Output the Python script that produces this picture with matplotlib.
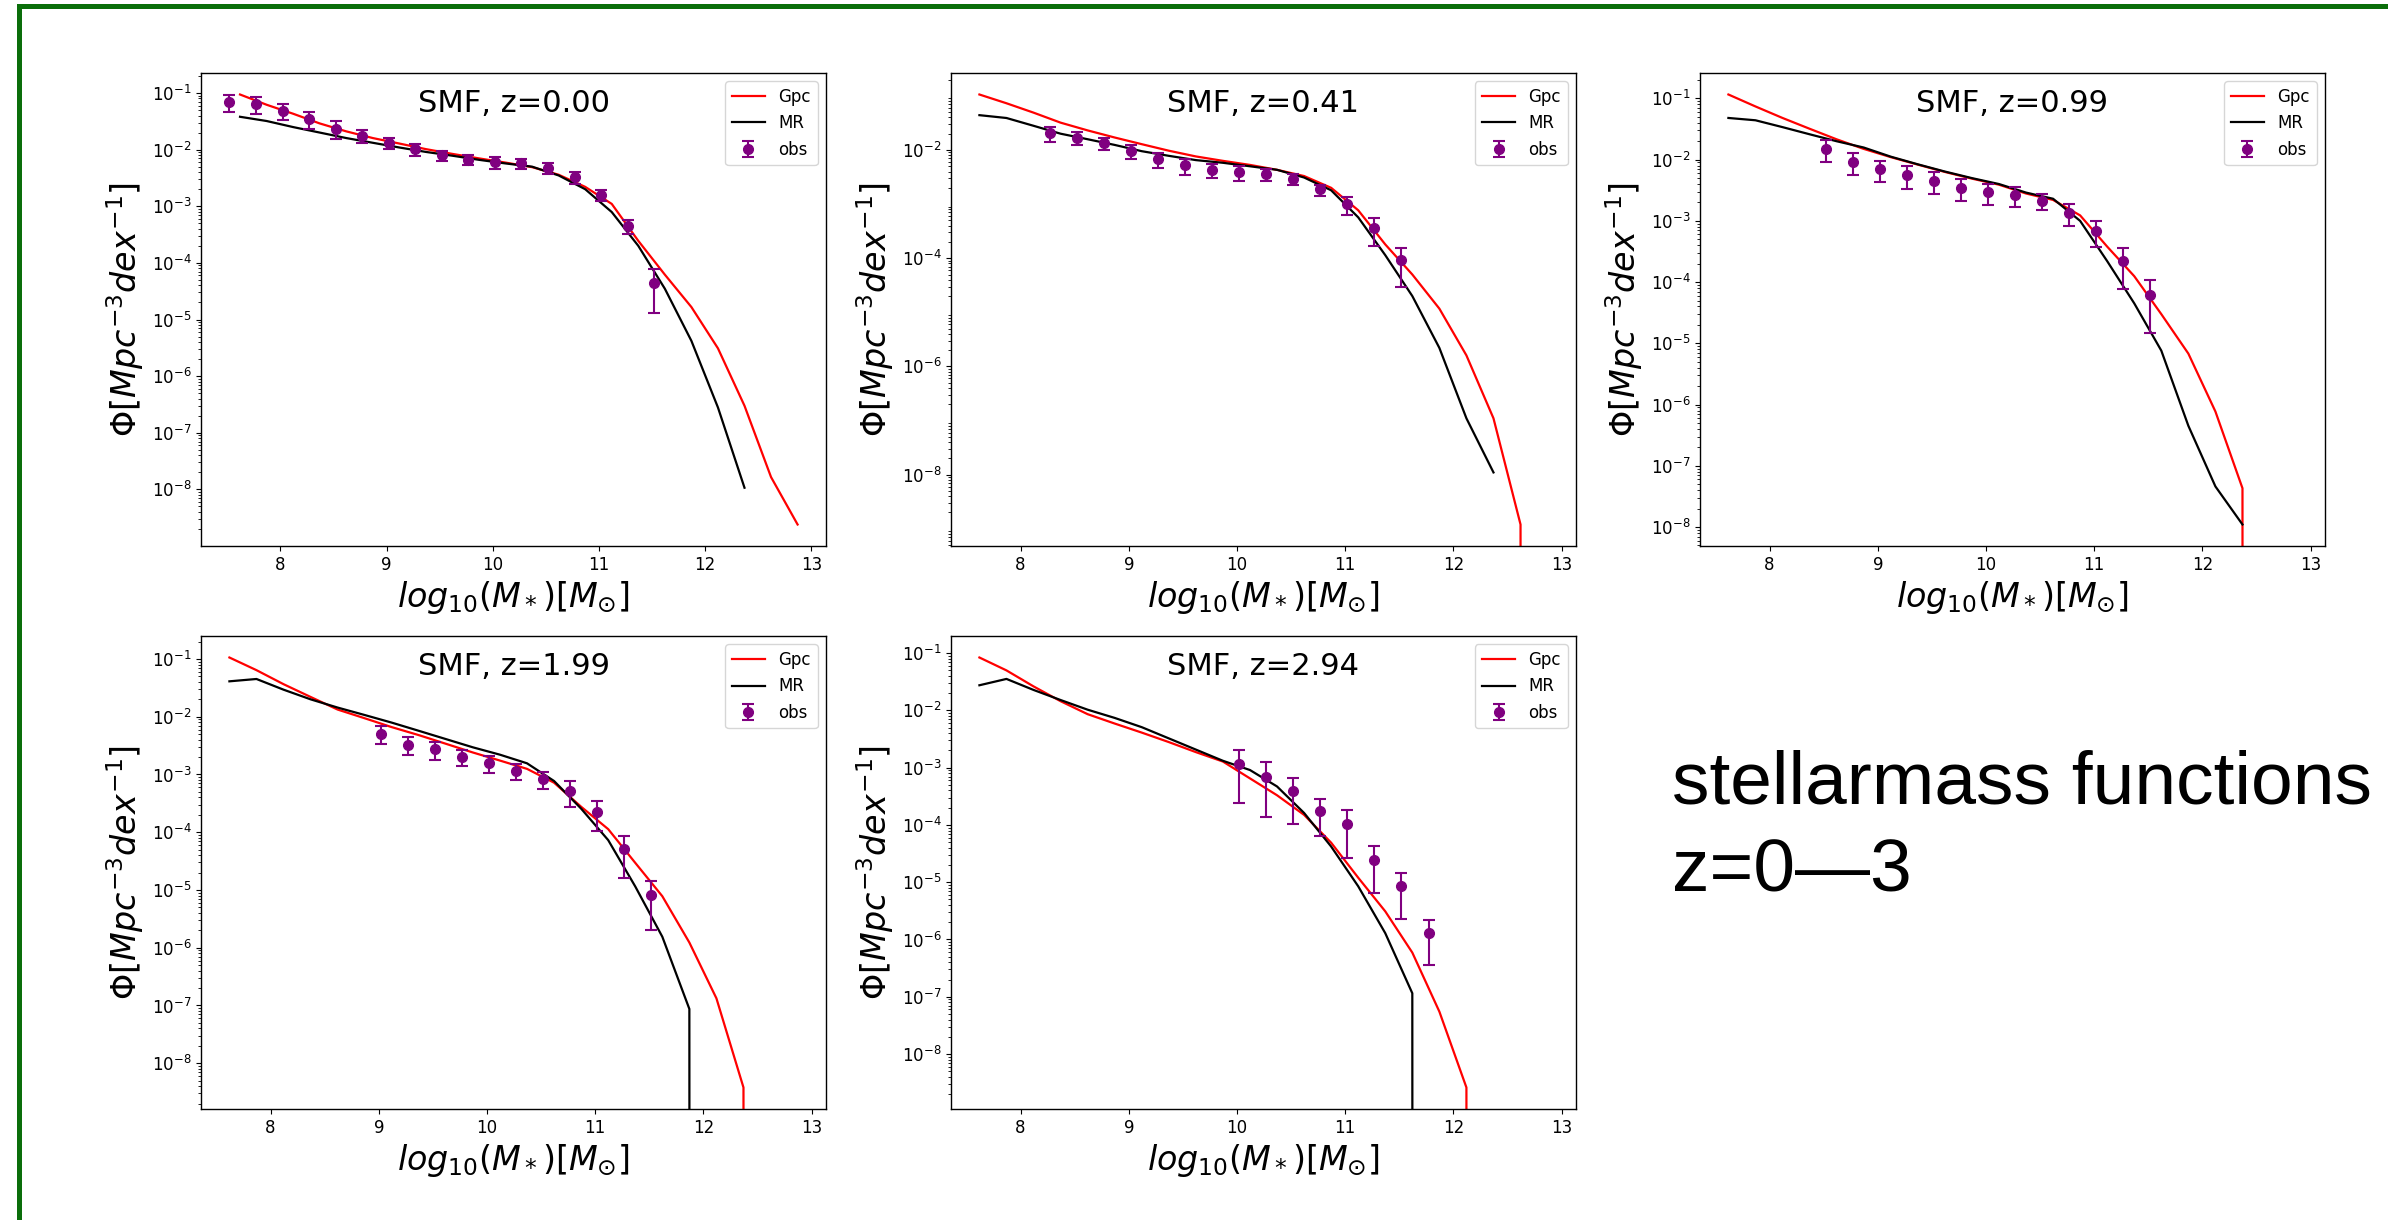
import numpy as np
import matplotlib
matplotlib.use("Agg")
import matplotlib.pyplot as plt
from matplotlib.patches import Rectangle
from matplotlib.ticker import LogLocator

nan = np.nan

# Stellar mass bins of the model curves, log10(M*/Msun)
mass_model = [7.62, 7.87, 8.12, 8.37, 8.62, 8.87, 9.12, 9.37, 9.62, 9.87, 10.12,
              10.37, 10.62, 10.87, 11.12, 11.37, 11.62, 11.87, 12.12, 12.37, 12.62, 12.87]

redshifts = ["0.00", "0.41", "0.99", "1.99", "2.94"]

# Gpc run
gpc_z000 = [9.4e-2, 6.2e-2, 4.3e-2, 2.9e-2, 2.1e-2, 1.6e-2, 1.28e-2, 1.02e-2, 8.4e-3, 7.0e-3, 5.9e-3,
            4.9e-3, 3.6e-3, 2.2e-3, 1.1e-3, 2.45e-4, 6.2e-5, 1.66e-5, 3.1e-6, 3.0e-7, 1.65e-8, 2.4e-9]
gpc_z041 = [1.06e-1, 7.3e-2, 4.9e-2, 3.2e-2, 2.3e-2, 1.7e-2, 1.28e-2, 9.7e-3, 7.6e-3, 6.3e-3, 5.3e-3,
            4.3e-3, 3.3e-3, 2.0e-3, 7.7e-4, 1.8e-4, 5.0e-5, 1.17e-5, 1.6e-6, 1.1e-7, 1.2e-9, 0.0]
gpc_z099 = [1.16e-1, 7.4e-2, 4.8e-2, 3.2e-2, 2.15e-2, 1.5e-2, 1.1e-2, 8.3e-3, 6.3e-3, 4.9e-3, 3.9e-3,
            2.8e-3, 2.2e-3, 1.23e-3, 3.8e-4, 1.25e-4, 3.0e-5, 6.8e-6, 7.7e-7, 4.3e-8, 0.0, 0.0]
gpc_z199 = [1.06e-1, 6.4e-2, 3.66e-2, 2.2e-2, 1.33e-2, 9.4e-3, 6.6e-3, 4.8e-3, 3.4e-3, 2.4e-3, 1.74e-3,
            1.25e-3, 7.2e-4, 2.76e-4, 1.13e-4, 2.95e-5, 7.8e-6, 1.23e-6, 1.33e-7, 3.8e-9, 0.0, 0.0]
gpc_z294 = [8.4e-2, 5.0e-2, 2.63e-2, 1.45e-2, 8.6e-3, 5.9e-3, 4.1e-3, 2.8e-3, 1.87e-3, 1.28e-3, 6.5e-4,
            3.3e-4, 1.5e-4, 4.9e-5, 1.2e-5, 3.1e-6, 5.9e-7, 5.5e-8, 2.6e-9, 0.0, 0.0, 0.0]

# Millennium run (MR)
mr_z000 = [3.8e-2, 3.2e-2, 2.5e-2, 2.0e-2, 1.6e-2, 1.32e-2, 1.09e-2, 9.1e-3, 7.8e-3, 6.6e-3, 5.7e-3,
           5.0e-3, 3.5e-3, 2.0e-3, 7.9e-4, 2.0e-4, 3.5e-5, 4.2e-6, 2.8e-7, 1.07e-8, nan, nan]
mr_z041 = [4.4e-2, 3.9e-2, 2.8e-2, 2.0e-2, 1.58e-2, 1.24e-2, 9.5e-3, 7.8e-3, 6.5e-3, 5.8e-3, 5.0e-3,
           4.3e-3, 3.1e-3, 1.8e-3, 5.7e-4, 1.14e-4, 2.0e-5, 2.2e-6, 1.1e-7, 1.1e-8, nan, nan]
mr_z099 = [4.8e-2, 4.4e-2, 3.4e-2, 2.6e-2, 2.0e-2, 1.58e-2, 1.12e-2, 8.4e-3, 6.4e-3, 5.0e-3, 4.0e-3,
           2.9e-3, 2.3e-3, 1.0e-3, 2.2e-4, 4.5e-5, 7.6e-6, 4.5e-7, 4.6e-8, 1.1e-8, nan, nan]
mr_z199 = [4.1e-2, 4.5e-2, 2.94e-2, 2.0e-2, 1.44e-2, 1.07e-2, 7.9e-3, 5.7e-3, 4.1e-3, 2.95e-3, 2.2e-3,
           1.56e-3, 7.7e-4, 2.56e-4, 7.3e-5, 1.15e-5, 1.55e-6, 8.7e-8, 0.0, nan, nan, nan]
mr_z294 = [2.75e-2, 3.55e-2, 2.28e-2, 1.52e-2, 1.03e-2, 7.4e-3, 5.1e-3, 3.25e-3, 2.07e-3, 1.32e-3, 9.1e-4,
           4.7e-4, 1.62e-4, 4.2e-5, 8.5e-6, 1.29e-6, 1.15e-7, 0.0, nan, nan, nan, nan]

# Observed stellar mass functions with 1-sigma errors
obs_mass_z000 = [7.52, 7.77, 8.02, 8.27, 8.52, 8.77, 9.02, 9.27, 9.52, 9.77, 10.02, 10.27, 10.52,
                 10.77, 11.02, 11.27, 11.52]
obs_phi_z000 = [6.9e-2, 6.4e-2, 4.8e-2, 3.5e-2, 2.35e-2, 1.77e-2, 1.32e-2, 1.03e-2, 7.9e-3, 6.6e-3,
                6.0e-3, 5.7e-3, 4.7e-3, 3.3e-3, 1.6e-3, 4.5e-4, 4.5e-5]
obs_err_z000 = [2.2e-2, 2.2e-2, 1.5e-2, 1.2e-2, 8.0e-3, 4.5e-3, 3.1e-3, 2.5e-3, 1.5e-3, 1.3e-3,
                1.4e-3, 1.2e-3, 1.0e-3, 8.0e-4, 3.6e-4, 1.3e-4, 3.2e-5]

obs_mass_z041 = [8.27, 8.52, 8.77, 9.02, 9.27, 9.52, 9.77, 10.02, 10.27, 10.52, 10.77, 11.02, 11.27, 11.52]
obs_phi_z041 = [2.04e-2, 1.68e-2, 1.34e-2, 9.7e-3, 6.7e-3, 5.2e-3, 4.3e-3, 3.9e-3, 3.55e-3, 2.9e-3,
                1.87e-3, 1.0e-3, 3.6e-4, 9.3e-5]
obs_err_z041 = [6.5e-3, 4.4e-3, 3.6e-3, 2.9e-3, 2.0e-3, 1.7e-3, 1.3e-3, 1.2e-3, 9.0e-4, 6.5e-4,
                4.3e-4, 3.7e-4, 1.9e-4, 6.4e-5]

obs_mass_z099 = [8.52, 8.77, 9.02, 9.27, 9.52, 9.77, 10.02, 10.27, 10.52, 10.77, 11.02, 11.27, 11.52]
obs_phi_z099 = [1.48e-2, 9.2e-3, 6.97e-3, 5.55e-3, 4.48e-3, 3.48e-3, 2.96e-3, 2.64e-3, 2.11e-3,
                1.36e-3, 6.8e-4, 2.19e-4, 6.07e-5]
obs_err_z099 = [5.8e-3, 3.6e-3, 2.7e-3, 2.2e-3, 1.7e-3, 1.36e-3, 1.12e-3, 9.3e-4, 6.0e-4,
                5.3e-4, 3.0e-4, 1.42e-4, 4.6e-5]

obs_mass_z199 = [9.02, 9.27, 9.52, 9.77, 10.02, 10.27, 10.52, 10.77, 11.02, 11.27, 11.52]
obs_phi_z199 = [5.1e-3, 3.3e-3, 2.74e-3, 2.04e-3, 1.55e-3, 1.16e-3, 8.3e-4, 5.25e-4, 2.26e-4, 5.1e-5, 8.1e-6]
obs_err_z199 = [1.75e-3, 1.1e-3, 9.5e-4, 6.5e-4, 5.0e-4, 3.7e-4, 2.8e-4, 2.5e-4, 1.2e-4, 3.5e-5, 6.1e-6]

obs_mass_z294 = [10.02, 10.27, 10.52, 10.77, 11.02, 11.27, 11.52, 11.77]
obs_phi_z294 = [1.14e-3, 7.0e-4, 3.85e-4, 1.73e-4, 1.03e-4, 2.45e-5, 8.5e-6, 1.29e-6]
obs_err_z294 = [9.0e-4, 5.6e-4, 2.8e-4, 1.1e-4, 7.6e-5, 1.8e-5, 6.2e-6, 9.3e-7]

gpc_all = [gpc_z000, gpc_z041, gpc_z099, gpc_z199, gpc_z294]
mr_all = [mr_z000, mr_z041, mr_z099, mr_z199, mr_z294]
obs_mass_all = [obs_mass_z000, obs_mass_z041, obs_mass_z099, obs_mass_z199, obs_mass_z294]
obs_phi_all = [obs_phi_z000, obs_phi_z041, obs_phi_z099, obs_phi_z199, obs_phi_z294]
obs_err_all = [obs_err_z000, obs_err_z041, obs_err_z099, obs_err_z199, obs_err_z294]

plt.rcParams["font.family"] = ["DejaVu Sans"]
plt.rcParams["font.size"] = 12

W, H = 2388, 1220
fig = plt.figure(figsize=(W / 100, H / 100), dpi=100)

# panel boxes in pixels: (left, top)
panel_w, panel_h = 625, 473
corners = [(201, 73), (951, 73), (1700, 73), (201, 636), (951, 636)]

for i, (x0, y0) in enumerate(corners):
    ax = fig.add_axes([x0 / W, 1 - (y0 + panel_h) / H, panel_w / W, panel_h / H])
    ax.plot(mass_model, gpc_all[i], color="red", lw=1.6, label="Gpc")
    ax.plot(mass_model, mr_all[i], color="black", lw=1.6, label="MR")
    ax.errorbar(obs_mass_all[i], obs_phi_all[i], yerr=obs_err_all[i], fmt="o",
                color="purple", markersize=7, capsize=4, capthick=1.5, elinewidth=1.5,
                label="obs")
    ax.set_yscale("log")
    ax.yaxis.set_major_locator(LogLocator(base=10, numticks=8))
    ax.legend(loc="upper right", fontsize=12)
    ax.text(0.5, 0.918, "SMF, z=" + redshifts[i], transform=ax.transAxes,
            ha="center", va="baseline", fontsize=22)
    ax.set_xlabel(r"$log_{10}(M_*)[M_{\odot}]$", fontsize=24)
    ax.set_ylabel(r"$\Phi[Mpc^{-3}dex^{-1}]$", fontsize=24)
    ax.set_xticks([8, 9, 10, 11, 12, 13])
    ax.tick_params(labelsize=12)
    for sp in ax.spines.values():
        sp.set_linewidth(1.0)

# slide caption
fig.text(1672 / W, 1 - 804 / H, "stellarmass functions", fontsize=54,
         family=["Liberation Sans", "DejaVu Sans"], va="baseline", ha="left")
fig.text(1672 / W, 1 - 892 / H, "z=0\u20143", fontsize=54,
         family=["Liberation Sans", "DejaVu Sans"], va="baseline", ha="left")

# green frame along the top and left edges
fig.add_artist(Rectangle((18.5 / W, -0.5), 2.0, (H - 5.8) / H + 0.5,
                         transform=fig.transFigure, fill=False,
                         edgecolor="#0a6e0a", linewidth=3.6, clip_on=False))

fig.savefig("out.png", dpi=100)
